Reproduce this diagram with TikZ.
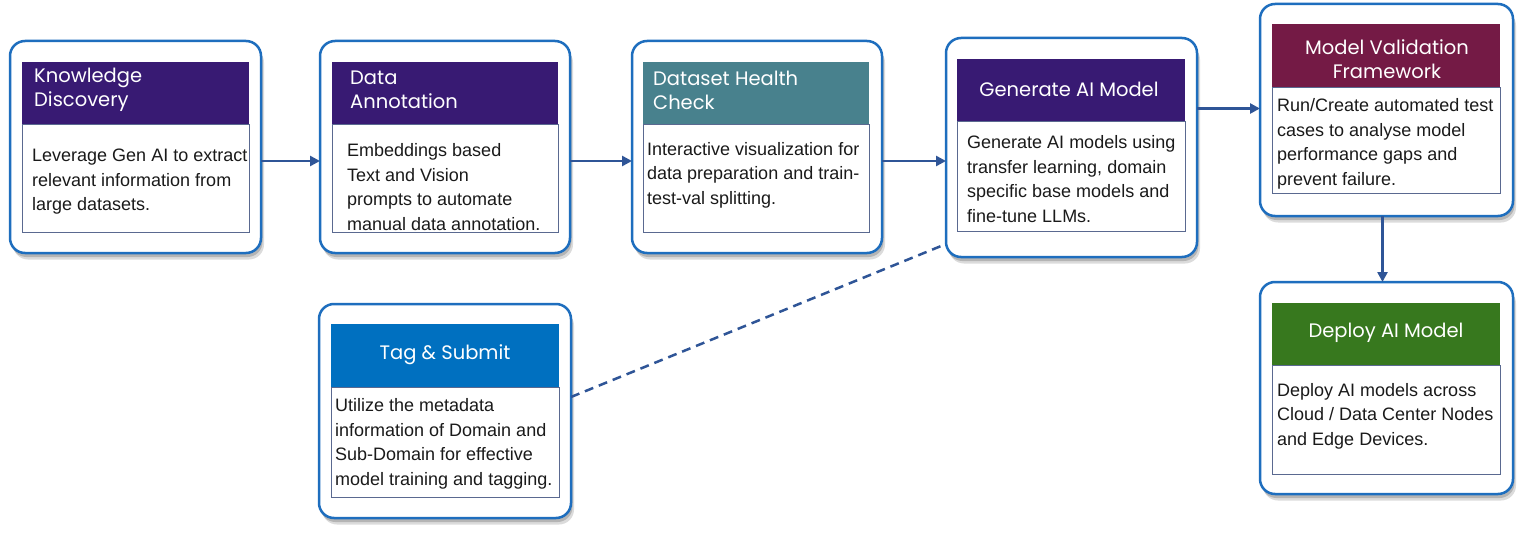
\documentclass[tikz,border=0pt]{standalone}
\usepackage{fontspec}
\setmainfont{Liberation Sans}
\newfontfamily\hfont{Poppins}
\usetikzlibrary{arrows.meta,shadows}
\definecolor{cPurple}{HTML}{381A73}
\definecolor{cTeal}{HTML}{48818D}
\definecolor{cMaroon}{HTML}{741A45}
\definecolor{cGreen}{HTML}{37781E}
\definecolor{cBlue}{HTML}{0070C0}
\definecolor{cBorder}{HTML}{1E6EBE}
\definecolor{cArrow}{HTML}{2F5597}
\definecolor{cBody}{HTML}{5A6990}
\definecolor{cText}{HTML}{1A1A1A}
\definecolor{cShadow}{HTML}{9A9A9A}
\begin{document}
\begin{tikzpicture}[x=1pt,y=-1pt,
  outerbox/.style={draw=cBorder, line width=2.5pt, rounded corners=15pt, fill=white,
    drop shadow={shadow xshift=3pt, shadow yshift=-6.5pt, opacity=0.35, fill=cShadow},
    drop shadow={shadow xshift=1.5pt, shadow yshift=-4pt, opacity=0.6, fill=cShadow},
    inner sep=0pt, outer sep=0pt, anchor=north west},
  hdr/.style={inner sep=0pt, outer sep=0pt, draw=none, anchor=north west},
  bodybox/.style={draw=cBody, line width=0.9pt, fill=white, inner sep=0pt, outer sep=0pt, anchor=north west},
  htext/.style={text=white, font=\hfont\fontsize{19.5}{24}\selectfont, inner sep=0pt, align=left},
  hctext/.style={htext, align=center},
  btext/.style={text=cText, font=\fontsize{18}{24.5}\selectfont, inner sep=0pt, align=left, anchor=west},
  arr/.style={draw=cArrow, line width=2.5pt, -{Triangle[length=10pt,width=10pt]}},
  dashline/.style={draw=cArrow, line width=2.5pt, dash pattern=on 9pt off 6pt}]
\useasboundingbox[fill=white] (0,0) rectangle (1524,535);

% outer boxes
\node[outerbox, minimum width=251pt, minimum height=212pt] (b1) at (10,41) {};
\node[outerbox, minimum width=250pt, minimum height=212pt] (b2) at (320,41) {};
\node[outerbox, minimum width=250pt, minimum height=212pt] (b3) at (632,41) {};
\node[outerbox, minimum width=251pt, minimum height=219pt] (b4) at (946,38) {};
\node[outerbox, minimum width=253pt, minimum height=212pt] (b5) at (1260,4) {};
\node[outerbox, minimum width=253pt, minimum height=212pt] (b6) at (1260,282) {};
\node[outerbox, minimum width=252pt, minimum height=214pt] (b7) at (319,304) {};

% headers
\node[hdr, fill=cPurple, minimum width=227pt, minimum height=62pt] (b1h) at (22,62) {};
\node[hdr, fill=cPurple, minimum width=226pt, minimum height=62pt] (b2h) at (332,62) {};
\node[hdr, fill=cTeal, minimum width=226pt, minimum height=62pt] (b3h) at (643,62) {};
\node[hdr, fill=cPurple, minimum width=228pt, minimum height=62pt] (b4h) at (957,59) {};
\node[hdr, fill=cMaroon, minimum width=228pt, minimum height=63pt] (b5h) at (1272,24) {};
\node[hdr, fill=cGreen, minimum width=228pt, minimum height=62pt] (b6h) at (1272,303) {};
\node[hdr, fill=cBlue, minimum width=228pt, minimum height=63pt] (b7h) at (331,324) {};

% bodies
\node[bodybox, minimum width=227pt, minimum height=108pt] (b1b) at (22,124) {};
\node[bodybox, minimum width=226pt, minimum height=108pt] (b2b) at (332,124) {};
\node[bodybox, minimum width=226pt, minimum height=108pt] (b3b) at (643,124) {};
\node[bodybox, minimum width=228pt, minimum height=110pt] (b4b) at (957,121) {};
\node[bodybox, minimum width=228pt, minimum height=106pt] (b5b) at (1272,87) {};
\node[bodybox, minimum width=228pt, minimum height=109pt] (b6b) at (1272,365) {};
\node[bodybox, minimum width=228pt, minimum height=110pt] (b7b) at (331,387) {};

% header texts
\node[htext, anchor=west] (b1ht) at (34,90) {Knowledge\\Discovery};
\node[htext, anchor=west] (b2ht) at (350,90) {Data\\Annotation};
\node[htext, anchor=west] (b3ht) at (653,90) {Dataset Health\\Check};
\node[hctext] (b4ht) at (1069,89) {Generate AI Model};
\node[hctext] (b5ht) at (1387,59) {Model Validation\\Framework};
\node[hctext] (b6ht) at (1386,333) {Deploy AI Model};
\node[hctext] (b7ht) at (445,355) {Tag \& Submit};

% body texts
\node[btext] (b1bt) at (32,182) {Leverage Gen AI to extract\\relevant information from\\large datasets.};
\node[btext] (b2bt) at (347,187) {Embeddings based\\Text and Vision\\prompts to automate\\manual data annotation.};
\node[btext] (b3bt) at (647,175) {Interactive visualization for\\data preparation and train-\\test-val splitting.};
\node[btext] (b4bt) at (967,179) {Generate AI models using\\transfer learning, domain\\specific base models and\\fine-tune LLMs.};
\node[btext] (b5bt) at (1277,144) {Run/Create automated test\\cases to analyse model\\performance gaps and\\prevent failure.};
\node[btext] (b6bt) at (1277,416) {Deploy AI models across\\Cloud / Data Center Nodes\\and Edge Devices.};
\node[btext] (b7bt) at (335,444) {Utilize the metadata\\information of Domain and\\Sub-Domain for effective\\model training and tagging.};

% connectors
\draw[arr] ([yshift=-14pt]b1.east) -- ([yshift=-14pt]b2.west);
\draw[arr] ([yshift=-14pt]b2.east) -- ([yshift=-14pt]b3.west);
\draw[arr] ([yshift=-14pt]b3.east) -- ([yshift=-14pt]b3.east -| b4.west);
\draw[arr] ([yshift=39pt]b4.east) -- ([yshift=39pt]b4.east -| b5.west);
\draw[arr] ([xshift=-4pt]b5.south) -- ([xshift=-4pt]b6.north);
\draw[dashline] ([yshift=14pt]b7.east) -- ([yshift=13pt]b4.south west);
\end{tikzpicture}
\end{document}
